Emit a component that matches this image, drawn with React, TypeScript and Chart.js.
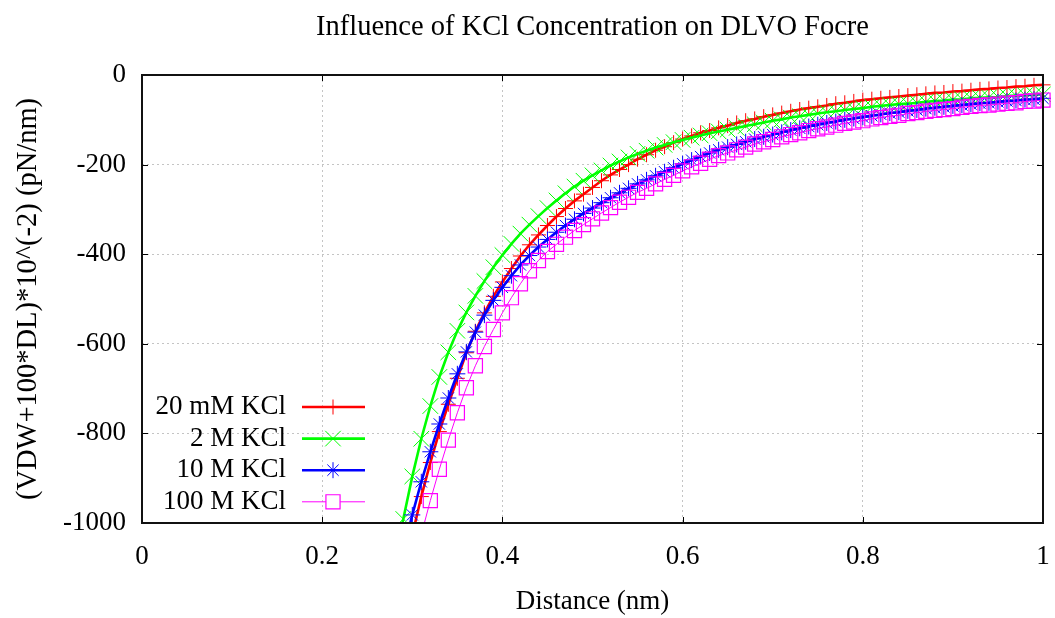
import React, { useEffect, useRef } from 'react';
import { Chart, registerables } from 'chart.js';
import { drawPoint } from 'chart.js/helpers';

Chart.register(...registerables);

// Distance (nm)
const distance = [
  0.28, 0.29, 0.30, 0.31, 0.32, 0.33, 0.34, 0.35, 0.36, 0.37,
  0.38, 0.39, 0.40, 0.41, 0.42, 0.43, 0.44, 0.45, 0.46, 0.47,
  0.48, 0.49, 0.50, 0.51, 0.52, 0.53, 0.54, 0.55, 0.56, 0.57,
  0.58, 0.59, 0.60, 0.61, 0.62, 0.63, 0.64, 0.65, 0.66, 0.67,
  0.68, 0.69, 0.70, 0.71, 0.72, 0.73, 0.74, 0.75, 0.76, 0.77,
  0.78, 0.79, 0.80, 0.81, 0.82, 0.83, 0.84, 0.85, 0.86, 0.87,
  0.88, 0.89, 0.90, 0.91, 0.92, 0.93, 0.94, 0.95, 0.96, 0.97,
  0.98, 0.99, 1.00,
];

// 20 mM KCl
const kcl20mM = [
  -1234, -1124, -1027, -941, -865, -796, -735, -677, -620, -572,
  -531, -494, -462, -432, -404, -379, -357, -336, -316, -298,
  -281, -266, -251, -236, -223, -211, -200, -188, -178, -168,
  -160, -151, -143, -136, -129, -124, -118, -113, -107, -102,
  -98, -93, -89, -85, -81, -77, -74, -71, -68, -64,
  -62, -59, -56, -54, -52, -50, -48, -46, -44, -42,
  -40, -39, -37, -36, -34, -32, -31, -29, -28, -26,
  -25, -23, -22,
];

// 2 M KCl
const kcl2M = [
  -1089, -991, -896, -812, -739, -674, -619, -571, -530, -493,
  -460, -429, -402, -377, -354, -334, -315, -297, -280, -264,
  -249, -236, -224, -213, -202, -193, -184, -176, -169, -162,
  -156, -150, -145, -140, -135, -130, -126, -122, -118, -114,
  -110, -106, -102, -99, -95, -92, -89, -86, -83, -81,
  -78, -76, -74, -71, -69, -67, -65, -64, -62, -60,
  -58, -57, -55, -54, -52, -51, -50, -49, -47, -46,
  -45, -44, -43,
];

// 10 M KCl
const kcl10M = [
  -1150, -1062, -982, -908, -841, -779, -721, -667, -618, -574,
  -536, -503, -474, -448, -424, -403, -384, -367, -351, -336,
  -322, -309, -297, -285, -274, -263, -253, -243, -234, -225,
  -216, -207, -198, -190, -182, -174, -167, -161, -155, -149,
  -143, -138, -133, -128, -123, -119, -115, -111, -107, -104,
  -100, -97, -94, -91, -88, -85, -83, -80, -78, -75,
  -73, -71, -69, -67, -65, -63, -62, -60, -58, -57,
  -55, -54, -52,
];

// 100 M KCl
const kcl100M = [
  -1300, -1200, -1110, -1026, -950, -880, -815, -754, -698, -649,
  -606, -568, -531, -497, -466, -437, -414, -394, -378, -362,
  -347, -334, -321, -308, -296, -284, -273, -262, -253, -243,
  -233, -224, -214, -205, -197, -188, -180, -174, -167, -161,
  -154, -149, -144, -138, -133, -129, -124, -120, -116, -112,
  -108, -105, -102, -98, -95, -92, -90, -86, -84, -81,
  -79, -77, -75, -72, -70, -68, -67, -65, -63, -62,
  -59, -58, -56,
];

const seriesLabels = ['20 mM KCl', '2 M KCl', '10 M KCl', '100 M KCl'];
const chartTitle = 'Influence of KCl Concentration on DLVO Focre';
const xTitle = 'Distance (nm)';
const yTitle = '(VDW+100*DL)*10^(-2) (pN/nm)';

const FONT_FAMILY = "'Liberation Serif', 'Times New Roman', Times, serif";
const FONT_SIZE = 27;

const toPoints = (ys: number[]) => distance.map((x, i) => ({ x, y: ys[i] }));

const framePlugin = {
  id: 'gnuFrame',
  afterDatasetsDraw(chart: any) {
    const { ctx, chartArea } = chart;
    const { left, right, top, bottom } = chartArea;
    const xs = chart.scales.x;
    const ys = chart.scales.y;
    ctx.save();
    ctx.strokeStyle = '#000';
    ctx.lineWidth = 1;
    ctx.beginPath();
    xs.ticks.forEach((t: any) => {
      const px = Math.round(xs.getPixelForValue(t.value)) + 0.5;
      ctx.moveTo(px, bottom);
      ctx.lineTo(px, bottom - 6);
      ctx.moveTo(px, top);
      ctx.lineTo(px, top + 6);
    });
    ys.ticks.forEach((t: any) => {
      const py = Math.round(ys.getPixelForValue(t.value)) + 0.5;
      ctx.moveTo(left, py);
      ctx.lineTo(left + 6, py);
      ctx.moveTo(right, py);
      ctx.lineTo(right - 6, py);
    });
    ctx.stroke();
    ctx.lineWidth = 2;
    ctx.strokeStyle = '#111';
    ctx.strokeRect(left, top, right - left, bottom - top);
    ctx.restore();
  },
};

const legendPlugin = {
  id: 'insideLegend',
  afterDraw(chart: any) {
    const { ctx } = chart;
    ctx.save();
    ctx.font = `${FONT_SIZE}px ${FONT_FAMILY}`;
    ctx.textAlign = 'right';
    ctx.textBaseline = 'middle';
    const textRight = 286;
    const lineStart = 302;
    const lineEnd = 365;
    const markX = 333;
    chart.data.datasets.forEach((ds: any, i: number) => {
      const y = 407 + i * 31.6;
      ctx.fillStyle = '#000';
      ctx.fillText(ds.label, textRight, y);
      ctx.strokeStyle = ds.borderColor;
      ctx.lineWidth = ds.borderWidth;
      ctx.beginPath();
      if (ds.pointStyle === 'rect') {
        const half = ds.pointRadius * Math.SQRT1_2;
        ctx.moveTo(lineStart, y);
        ctx.lineTo(markX - half, y);
        ctx.moveTo(markX + half, y);
        ctx.lineTo(lineEnd, y);
      } else {
        ctx.moveTo(lineStart, y);
        ctx.lineTo(lineEnd, y);
      }
      ctx.stroke();
      ctx.lineWidth = ds.pointBorderWidth;
      ctx.strokeStyle = ds.pointBorderColor;
      ctx.fillStyle = 'rgba(0,0,0,0)';
      drawPoint(ctx, {
        pointStyle: ds.pointStyle,
        radius: ds.pointRadius,
        borderWidth: ds.pointBorderWidth,
        rotation: 0,
      } as any, markX, y);
    });
    ctx.restore();
  },
};

export default function App() {
  const canvasRef = useRef<HTMLCanvasElement>(null);

  useEffect(() => {
    const font = { family: FONT_FAMILY, size: FONT_SIZE, weight: 'normal' as const };
    const bigFont = { family: FONT_FAMILY, size: 28.5, weight: 'normal' as const };
    const clip = { left: 0, top: 0, right: 8, bottom: 0 };
    const chart = new Chart(canvasRef.current as HTMLCanvasElement, {
      type: 'line',
      data: {
        datasets: [
          {
            label: seriesLabels[0],
            data: toPoints(kcl20mM),
            borderColor: '#ff0000',
            borderWidth: 2.6,
            pointStyle: 'cross',
            pointRadius: 7.5,
            pointBorderWidth: 1,
            pointBorderColor: '#ff0000',
            pointBackgroundColor: 'rgba(0,0,0,0)',
            order: 4,
            clip,
          },
          {
            label: seriesLabels[1],
            data: toPoints(kcl2M),
            borderColor: '#00ff00',
            borderWidth: 2.6,
            pointStyle: 'crossRot',
            pointRadius: 11,
            pointBorderWidth: 1,
            pointBorderColor: '#00ff00',
            pointBackgroundColor: 'rgba(0,0,0,0)',
            order: 3,
            clip,
          },
          {
            label: seriesLabels[2],
            data: toPoints(kcl10M),
            borderColor: '#0000ff',
            borderWidth: 2.6,
            pointStyle: 'star',
            pointRadius: 8,
            pointBorderWidth: 1,
            pointBorderColor: '#0000ff',
            pointBackgroundColor: 'rgba(0,0,0,0)',
            order: 2,
            clip,
          },
          {
            label: seriesLabels[3],
            data: toPoints(kcl100M),
            borderColor: '#ff00ff',
            borderWidth: 1,
            pointStyle: 'rect',
            pointRadius: 10,
            pointBorderWidth: 1.2,
            pointBorderColor: '#ff00ff',
            pointBackgroundColor: 'rgba(0,0,0,0)',
            order: 1,
            clip,
          },
        ] as any,
      },
      options: {
        animation: false,
        responsive: false,
        maintainAspectRatio: false,
        layout: { padding: { left: 0, right: 10, top: 0, bottom: 0 } },
        elements: { line: { tension: 0 } },
        plugins: {
          legend: { display: false },
          tooltip: { enabled: false },
          title: {
            display: true,
            text: chartTitle,
            color: '#000',
            font: bigFont,
            fullSize: false,
            padding: { top: 10, bottom: 30.8 },
          },
        },
        scales: {
          x: {
            type: 'linear',
            min: 0,
            max: 1,
            ticks: {
              stepSize: 0.2,
              color: '#000',
              font,
              padding: 18,
              maxRotation: 0,
              callback: (v: any) => String(Math.round(Number(v) * 10) / 10),
            },
            grid: { color: '#c4c4c4', lineWidth: 1, drawTicks: false },
            border: { display: false, dash: [2, 3] },
            title: { display: true, text: xTitle, color: '#000', font, padding: 0 },
            afterFit: (s: any) => {
              s.height = 95;
              s.paddingLeft = 5;
              s.paddingRight = 5;
            },
          },
          y: {
            type: 'linear',
            min: -1000,
            max: 0,
            ticks: {
              stepSize: 200,
              color: '#000',
              font,
              padding: 16,
              callback: (v: any) => String(v),
            },
            grid: { color: '#c4c4c4', lineWidth: 1, drawTicks: false },
            border: { display: false, dash: [2, 3] },
            title: {
              display: true,
              text: yTitle,
              color: '#000',
              font: bigFont,
              padding: { top: 11, bottom: 0 },
            },
            afterFit: (s: any) => {
              s.width = 142;
            },
          },
        },
      } as any,
      plugins: [framePlugin, legendPlugin],
    });
    return () => chart.destroy();
  }, []);

  return (
    <div
      style={{
        position: 'fixed',
        left: 0,
        top: 0,
        width: 1055,
        height: 618,
        background: '#fff',
      }}
    >
      <canvas ref={canvasRef} width={1055} height={618} style={{ display: 'block' }} />
    </div>
  );
}
